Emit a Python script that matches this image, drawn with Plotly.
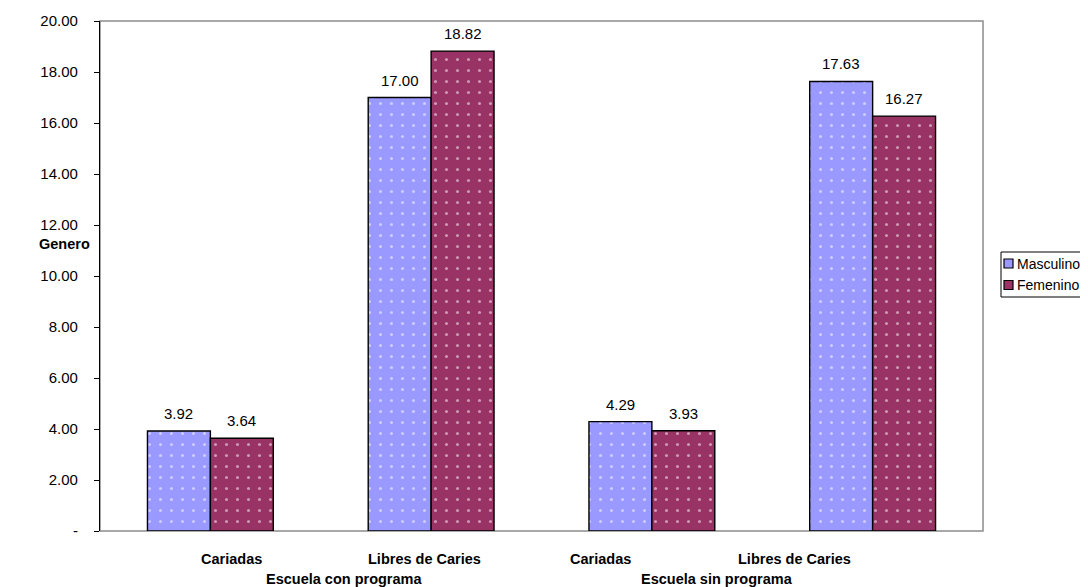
import plotly.graph_objects as go

categories = ["Cariadas", "Libres de Caries", "Cariadas ", "Libres de Caries "]
cat_labels = ["Cariadas", "Libres de Caries", "Cariadas", "Libres de Caries"]
groups = ["Escuela con programa", "Escuela sin programa"]
series_names = ["Masculino", "Femenino"]
masculino = [3.92, 17.00, 4.29, 17.63]
femenino = [3.64, 18.82, 3.93, 16.27]
y_ticks = [0, 2, 4, 6, 8, 10, 12, 14, 16, 18, 20]
y_ticktext = ["-"] + [f"{v:.2f}" for v in y_ticks[1:]]

FONT = "Liberation Sans, Arial, sans-serif"
colors = ["#9999FF", "#993366"]

# page offset: the html body has an 8px default margin
OFF = 8
# plot area in page pixels
L, R, T, B = 100, 983, 21, 531
W, H = 1088 - OFF, 587 - OFF
PW, PH = R - L, B - T

def px_x(px):
    return (px - L) / PW

def px_y(py):
    return (B - py) / PH

fig = go.Figure()
bargap = 0.43
bw = (1 - bargap) / 2
for k, (name, vals, col) in enumerate(zip(series_names, [masculino, femenino], colors)):
    fig.add_trace(go.Bar(
        name=name, x=list(range(len(categories))), y=vals,
        marker=dict(color=col, line=dict(color="black", width=1.4),
                    pattern=dict(shape=".", fgcolor="white", bgcolor=col, size=11, solidity=0.06)),
        showlegend=False,
    ))
    off = (k - 0.5) * bw
    for i, v in enumerate(vals):
        fig.add_annotation(x=i + off, y=v, xref="x", yref="y", text=f"{v:.2f}",
                           showarrow=False, yanchor="bottom", yshift=7,
                           font=dict(size=15, color="black"))

fig.update_layout(
    width=W, height=H,
    margin=dict(l=L - OFF, r=W - (R - OFF), t=T - OFF, b=H - (B - OFF), autoexpand=False),
    paper_bgcolor="white", plot_bgcolor="white",
    barmode="group", bargap=bargap, bargroupgap=0,
    font=dict(family=FONT, size=15, color="black"),
    showlegend=False,
    xaxis=dict(range=[-0.5, len(categories) - 0.5], showticklabels=False, ticks="",
               showgrid=False, zeroline=False, showline=False, automargin=False),
    yaxis=dict(range=[0, 20], tickvals=y_ticks, ticktext=y_ticktext,
               ticks="outside", ticklen=5, tickcolor="black", tickwidth=1,
               ticklabelstandoff=13,
               showline=True, linecolor="black", linewidth=1.2,
               showgrid=False, zeroline=False, tickfont=dict(size=15), automargin=False),
)

# plot frame (gray)
fig.add_shape(type="rect", xref="paper", yref="paper", x0=0, x1=1, y0=0, y1=1,
              line=dict(color="#8c8c8c", width=1.5), layer="below")

# category labels (placement as in the original rendering)
cat_offsets = [0.096, -0.030, -0.235, -0.356]
for i, (lab, off) in enumerate(zip(cat_labels, cat_offsets)):
    fig.add_annotation(x=i + off, y=px_y(559), xref="x", yref="paper", text=f"<b>{lab}</b>",
                       showarrow=False, yanchor="middle", font=dict(size=14.5))
group_pos = [0.605, 2.295]
for g, gx in zip(groups, group_pos):
    fig.add_annotation(x=gx, y=px_y(579), xref="x", yref="paper", text=f"<b>{g}</b>",
                       showarrow=False, yanchor="middle", font=dict(size=14.5))

fig.add_annotation(x=px_x(37), y=px_y(244), xref="paper", yref="paper", text="<b>Genero</b>",
                   showarrow=False, font=dict(size=14.5))

# legend box (partly cut off at the right edge, as in the reference)
fig.add_shape(type="rect", xref="paper", yref="paper",
              x0=px_x(1001), x1=px_x(1095), y0=px_y(297), y1=px_y(252),
              line=dict(color="black", width=1), fillcolor="white")
for j, (name, col) in enumerate(zip(series_names, colors)):
    cy = 263.5 + j * 21.5
    fig.add_shape(type="rect", xref="paper", yref="paper",
                  x0=px_x(1004), x1=px_x(1013), y0=px_y(cy + 4.5), y1=px_y(cy - 4.5),
                  line=dict(color="black", width=1.2), fillcolor=col)
    fig.add_annotation(x=px_x(1015), y=px_y(cy), xref="paper", yref="paper", text=name,
                       showarrow=False, xanchor="left", yanchor="middle",
                       font=dict(size=14))

fig.write_html("out.html")
